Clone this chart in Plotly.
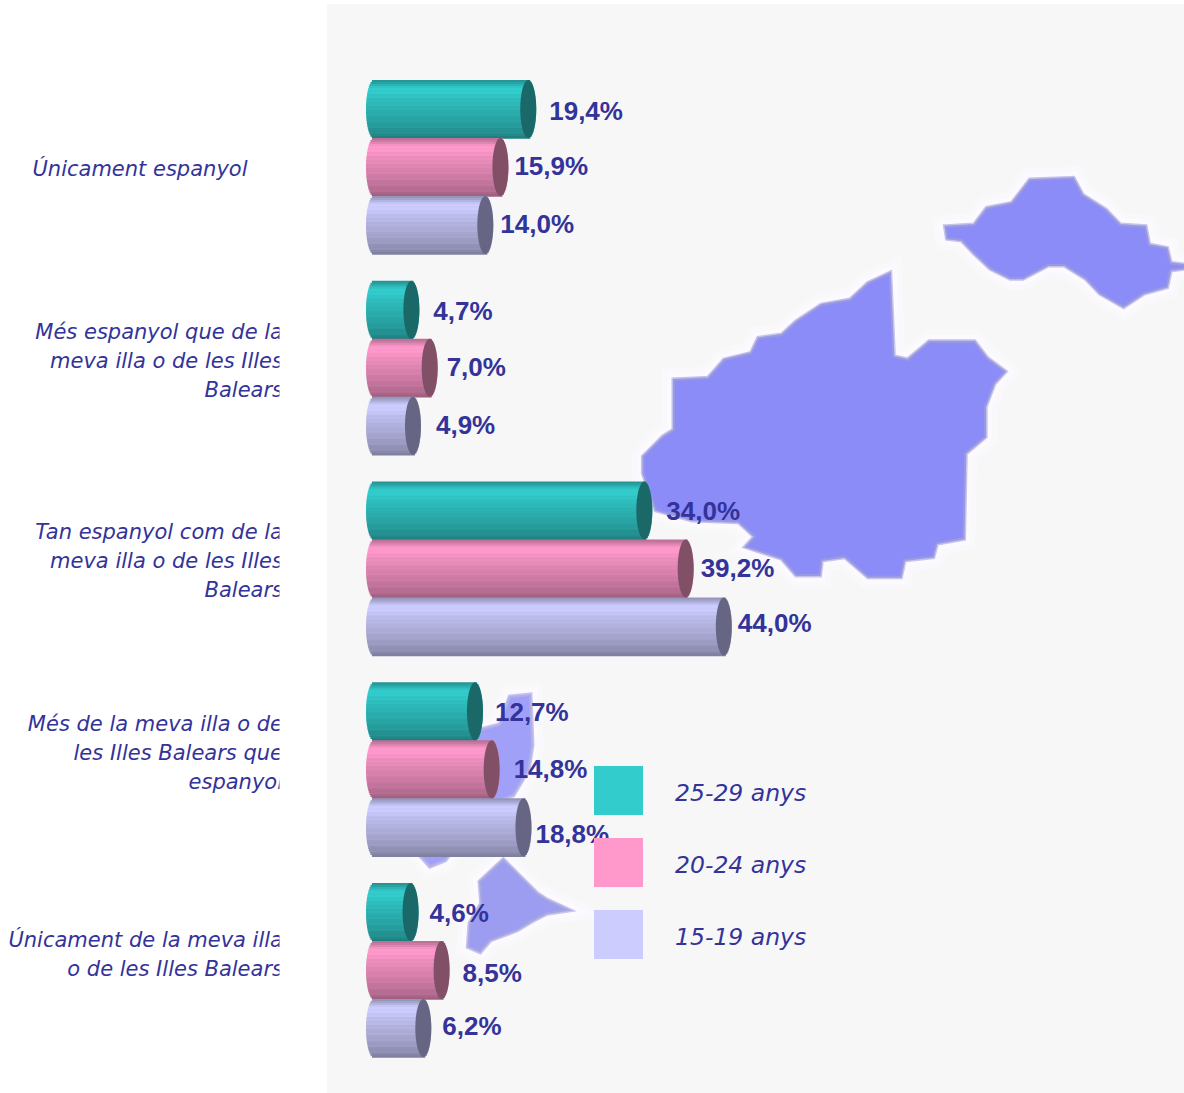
import plotly.graph_objects as go

# ---------- data ----------
categories = [
    ["Únicament espanyol"],
    ["Més espanyol que de la", "meva illa o de les Illes", "Balears"],
    ["Tan espanyol com de la", "meva illa o de les Illes", "Balears"],
    ["Més de la meva illa o de", "les Illes Balears que", "espanyol"],
    ["Únicament de la meva illa", "o de les Illes Balears"],
]
series_names = ["25-29 anys", "20-24 anys", "15-19 anys"]
values_25_29 = [19.4, 4.7, 34.0, 12.7, 4.6]
values_20_24 = [15.9, 7.0, 39.2, 14.8, 8.5]
values_15_19 = [14.0, 4.9, 44.0, 18.8, 6.2]

# ---------- layout constants ----------
W, H = 1184, 1093
X0, XS = 374.0, 7.95        # px of value 0, px per percentage unit
Y0, YS = 167.0, 200.75      # px of group 0, px per group
BAR_H = 58.0
CAP_R = 8.0
INK = "#333399"
FONT_IT = "DejaVu Sans"
FONT_B = "Liberation Sans"


def xv(px):
    return (px - X0) / XS


def yv(px):
    return (px - Y0) / YS


def pt(px, py):
    return px / W, 1 - py / H


base_cols = [(51, 204, 204), (255, 153, 204), (204, 204, 255)]
cap_cols = ["#1a6868", "#814f66", "#666684"]
all_values = [values_25_29, values_20_24, values_15_19]
tops = [-87.0, -29.0, 29.0]   # px of strip block top relative to group centre

# shading of the cylinder from top to bottom
shade = [0.74, 0.80, 0.88, 0.96, 1.0, 0.99, 1.0, 0.96, 0.97, 0.92, 0.93, 0.90, 0.91, 0.87,
         0.88, 0.85, 0.84, 0.85, 0.81, 0.80, 0.81, 0.77, 0.76, 0.77, 0.72, 0.71, 0.72, 0.67, 0.63]
N = len(shade)
STRIP = BAR_H / N

fig = go.Figure()

groups = list(range(len(categories)))
for s, vals in enumerate(all_values):
    for i, f in enumerate(shade):
        t = ((i + 0.5) / N) * 2 - 1
        chord = (max(0.0, 1 - t * t)) ** 0.5 * CAP_R / XS
        r, g, b = [min(255, int(c * f)) for c in base_cols[s]]
        fig.add_trace(go.Bar(
            orientation="h",
            y=groups,
            x=[v + 2 * chord for v in vals],
            base=-chord,
            offset=(tops[s] + i * STRIP) / YS,
            width=(STRIP + 0.7) / YS,
            marker=dict(color=f"rgb({r},{g},{b})", line=dict(width=0)),
            hoverinfo="skip",
            showlegend=False,
        ))

# data labels
label_gaps = [[13, 14, 14, 12, 11], [6, 9, 7, 14, 13], [7, 15, 6, 4, 11]]
label_ys = [[113, 313, 513, 714, 915], [168, 369, 570, 771, 975], [226, 427, 625, 836, 1028]]
for s, vals in enumerate(all_values):
    fig.add_trace(go.Scatter(
        mode="text",
        x=[v + (CAP_R + g) / XS for v, g in zip(vals, label_gaps[s])],
        y=[yv(p) for p in label_ys[s]],
        text=[f"{v:.1f}%".replace(".", ",") for v in vals],
        textposition="middle right",
        textfont=dict(family=FONT_B, size=26, color=INK, weight="bold"),
        hoverinfo="skip",
        showlegend=False,
    ))

# category labels (clipped at x = 280 by a mask)
cat_line_ys = [[171], [334, 363, 392], [534, 563, 592], [726, 755, 784], [942, 971]]
for g, lines in enumerate(categories):
    centered = len(lines) == 1
    fig.add_trace(go.Scatter(
        mode="text",
        x=[xv(140 if centered else 283)] * len(lines),
        y=[yv(p) for p in cat_line_ys[g]],
        text=lines,
        textposition="middle center" if centered else "middle left",
        textfont=dict(family=FONT_IT, size=21, color=INK, style="italic"),
        hoverinfo="skip",
        showlegend=False,
    ))

# legend texts
legend_ys = [795, 867, 939]
fig.add_trace(go.Scatter(
    mode="text",
    x=[xv(675)] * 3,
    y=[yv(p) for p in legend_ys],
    text=series_names,
    textposition="middle right",
    textfont=dict(family=FONT_IT, size=23.5, color=INK, style="italic"),
    hoverinfo="skip",
    showlegend=False,
))

# ---------- shapes ----------
shapes = [dict(type="rect", xref="paper", yref="paper", layer="below",
               x0=327 / W, x1=1, y0=0, y1=1 - 4 / H,
               fillcolor="#f7f7f7", line=dict(width=0))]


def zoomed(points, ox, oy, sx=3.0, sy=3.0):
    return [(ox + a / sx, oy + b / sy) for a, b in points]


def poly(points):
    d = ""
    for k, (a, b) in enumerate(points):
        px, py = pt(a, b)
        d += ("M" if k == 0 else "L") + f"{px:.5f},{py:.5f} "
    return d + "Z"


mallorca = zoomed([(750, 370), (760, 620), (800, 630), (860, 575), (985, 575), (1020, 625), (1070, 665),
                   (1040, 700), (1015, 770), (1015, 860), (960, 910), (955, 1165), (880, 1180), (870, 1220),
                   (790, 1230), (780, 1280), (690, 1280), (625, 1220), (560, 1230), (555, 1275), (490, 1275),
                   (450, 1225), (350, 1190), (375, 1160), (330, 1115), (200, 1110), (100, 1080), (65, 970),
                   (65, 920), (120, 860), (150, 840), (150, 690), (245, 685), (290, 630), (365, 610),
                   (385, 565), (450, 555), (490, 515), (560, 465), (640, 450), (690, 400)], 620, 150, 2.78, 3.0)
menorca = zoomed([(905, 230), (985, 225), (1020, 175), (1090, 160), (1140, 90), (1260, 85), (1285, 135),
                  (1350, 180), (1390, 225), (1460, 230), (1470, 285), (1520, 295), (1530, 340), (1568, 345),
                  (1568, 355), (1530, 360), (1520, 410), (1455, 430), (1400, 470), (1335, 430), (1295, 385),
                  (1235, 345), (1190, 345), (1120, 385), (1085, 385), (1030, 355), (985, 310), (950, 270),
                  (910, 265)], 620, 150, 2.78, 3.0)
eivissa = [(510, 697), (530, 695), (532, 745), (528, 770), (513, 795), (500, 800), (490, 800), (445, 860),
           (430, 866), (420, 855), (400, 800), (470, 750), (480, 730), (500, 725)]
formentera = zoomed([(310, 540), (360, 590), (410, 640), (440, 660), (505, 690), (440, 700), (400, 720),
                     (350, 750), (270, 780), (240, 815), (205, 800), (210, 730), (245, 670), (240, 605)],
                    400, 680)

for pts, fill, edge in [(mallorca, "#8c8cf8", "#9a9ae0"), (menorca, "#8c8cf8", "#9a9ae0"),
                        (eivissa, "#a0a0f8", "#b0b0e8"), (formentera, "#9c9cf0", "#a8a8e0")]:
    d = poly(pts)
    for lw, op in [(24, 0.45), (14, 0.8)]:
        shapes.append(dict(type="path", xref="paper", yref="paper", path=d, layer="below",
                           line=dict(color="#fdfbff", width=lw), fillcolor="rgba(255,255,255,0)", opacity=op))
    shapes.append(dict(type="path", xref="paper", yref="paper", path=d, layer="below",
                       line=dict(color="#c4c4ee", width=5), fillcolor=fill))
    shapes.append(dict(type="path", xref="paper", yref="paper", path=d, layer="below",
                       line=dict(color=edge, width=2), fillcolor=fill))

# cylinder end caps, centred on each value
for s, vals in enumerate(all_values):
    for g, v in enumerate(vals):
        shapes.append(dict(type="circle", xref="x", yref="y", layer="above",
                           x0=v - CAP_R / XS, x1=v + CAP_R / XS,
                           y0=g + tops[s] / YS, y1=g + (tops[s] + BAR_H) / YS,
                           fillcolor=cap_cols[s], line=dict(width=0)))

# mask that clips the category labels
shapes.append(dict(type="rect", xref="paper", yref="paper", layer="above",
                   x0=279.5 / W, x1=327 / W, y0=0, y1=1, fillcolor="white", line=dict(width=0)))

# legend swatches
swatch_cols = ["#33cccc", "#ff99cc", "#ccccff"]
swatch_tops = [766, 838, 910]
for c, top in zip(swatch_cols, swatch_tops):
    x0, y1 = pt(594, top)
    x1, y0 = pt(643, top + 49)
    shapes.append(dict(type="rect", xref="paper", yref="paper", layer="above",
                       x0=x0, x1=x1, y0=y0, y1=y1, fillcolor=c, line=dict(width=0)))

fig.update_layout(
    width=W, height=H,
    margin=dict(l=0, r=0, t=0, b=0),
    paper_bgcolor="white", plot_bgcolor="rgba(0,0,0,0)",
    barmode="overlay",
    showlegend=False,
    shapes=shapes,
    xaxis=dict(visible=False, range=[xv(0), xv(W)], fixedrange=True),
    yaxis=dict(visible=False, range=[yv(H), yv(0)], fixedrange=True),
)

fig.write_html("out.html", config=dict(displayModeBar=False),
               post_script="document.body.style.margin='0';")
